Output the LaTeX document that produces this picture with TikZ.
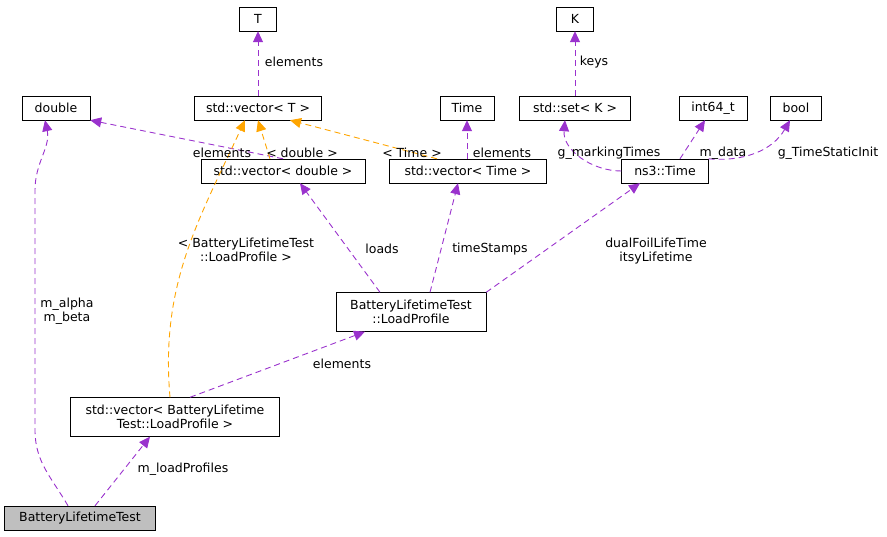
\documentclass[tikz,border=0pt]{standalone}
\usepackage{fontspec}
\setmainfont{DejaVu Sans}
\usetikzlibrary{positioning,arrows.meta}
\definecolor{dep}{HTML}{9A32CD}
\definecolor{tmpl}{HTML}{FFA500}
\tikzstyle{cls} = [rectangle, draw, fill=white, inner sep=2pt, minimum height=24pt, align=center, font=\fontsize{12.5}{14.5}\selectfont]
\tikzstyle{usage} = [-{Triangle[length=11pt,width=10pt]}, dash pattern=on 6pt off 4pt, dep, line width=0.9pt]
\tikzstyle{inst} = [-{Triangle[length=11pt,width=10pt]}, dash pattern=on 6pt off 4pt, tmpl, line width=0.9pt]
\tikzstyle{lbl} = [font=\fontsize{12.5}{14.5}\selectfont, align=center, text=black]

\begin{document}
\begin{tikzpicture}[x=1pt, y=-1pt]
    \useasboundingbox (0,0) rectangle (887,536);
    % Classes
    \node[cls, minimum width=37pt] (T) at (258,19) {T};
    \node[cls, minimum width=37pt] (K) at (575,19) {K};
    \node[cls, minimum width=68pt] (dbl) at (56,108) {double};
    \node[cls, minimum width=127pt] (vecT) at (258,108) {std::vector< T >};
    \node[cls, minimum width=54pt] (time) at (467,108) {Time};
    \node[cls, minimum width=111pt] (setK) at (575,108) {std::set< K >};
    \node[cls, minimum width=68pt] (int64) at (713,108) {int64\_t};
    \node[cls, minimum width=51pt] (bool) at (796,108) {bool};
    \node[cls, minimum width=164pt] (vecdbl) at (283,171) {std::vector< double >};
    \node[cls, minimum width=157pt] (vectime) at (468,171) {std::vector< Time >};
    \node[cls, minimum width=87pt] (ns3time) at (665,171) {ns3::Time};
    \node[cls, minimum width=150pt, minimum height=39pt] (lp) at (411,312) {BatteryLifetimeTest\\::LoadProfile};
    \node[cls, minimum width=209pt, minimum height=39pt] (veclp) at (175,417) {std::vector< BatteryLifetime\\Test::LoadProfile >};
    \node[cls, minimum width=151pt, fill=black!25] (blt) at (80,518) {BatteryLifetimeTest};

    % Relations
    \draw[usage] (vecT) -- (T);
    \draw[usage] (setK) -- (K);
    \draw[usage] (vecdbl.north) -- (dbl.south east);
    \draw[inst] ([xshift=-13pt]vecdbl.north) -- (vecT.south);
    \draw[inst] ([xshift=-31pt]vectime.north) -- ([xshift=32pt]vecT.south);
    \draw[usage] ([xshift=-1pt]vectime.north) -- (time);
    \draw[usage] (ns3time.west) to[out=180, in=-95] ([xshift=-10pt]setK.south);
    \draw[usage] ([xshift=15pt]ns3time.north) -- ([xshift=-8pt]int64.south);
    \draw[usage] (ns3time.north east) to[out=-5, in=-120] ([xshift=-6pt]bool.south);
    \draw[usage] ([xshift=-31pt]lp.north) -- ([xshift=17pt]vecdbl.south);
    \draw[usage] ([xshift=19pt]lp.north) -- ([xshift=-10pt]vectime.south);
    \draw[usage] (lp.north east) -- ([xshift=-25pt]ns3time.south);
    \draw[inst] ([xshift=-5pt]veclp.north) to[out=95, in=-115] ([xshift=-13pt]vecT.south);
    \draw[usage] ([xshift=15pt]veclp.north) -- ([xshift=-46pt]lp.south);
    \draw[usage] ([xshift=-12pt]blt.north) to[out=120, in=-90] (35,430) -- (35,190) to[out=90, in=-78] ([xshift=-11pt]dbl.south);
    \draw[usage] ([xshift=15pt]blt.north) -- ([xshift=-25pt]veclp.south);

    % Labels
    \node[lbl] (l_Telem) at (294,62) {elements};
    \node[lbl] (l_keys) at (594,62) {keys};
    \node[lbl] (l_delem) at (222,153) {elements};
    \node[lbl] (l_dtmpl) at (302,153) {< double >};
    \node[lbl] (l_ttmpl) at (412,153) {< Time >};
    \node[lbl] (l_telem) at (502,153) {elements};
    \node[lbl] (l_mark) at (609,153) {g\_markingTimes};
    \node[lbl] (l_mdata) at (723,153) {m\_data};
    \node[lbl] (l_init) at (828,153) {g\_TimeStaticInit};
    \node[lbl] (l_loads) at (382,249) {loads};
    \node[lbl] (l_stamps) at (490,249) {timeStamps};
    \node[lbl] (l_dual) at (656,251) {dualFoilLifeTime\\itsyLifetime};
    \node[lbl] (l_lptmpl) at (246,250) {< BatteryLifetimeTest\\::LoadProfile >};
    \node[lbl] (l_lpelem) at (342,364) {elements};
    \node[lbl] (l_alpha) at (67,311) {m\_alpha\\m\_beta};
    \node[lbl] (l_profiles) at (183,469) {m\_loadProfiles};
\end{tikzpicture}
\end{document}
